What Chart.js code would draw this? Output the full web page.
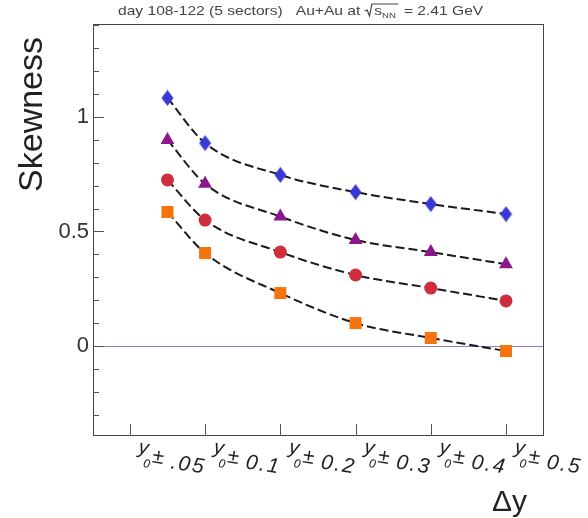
<!DOCTYPE html>
<html>
<head>
<meta charset="utf-8">
<script src="https://cdn.jsdelivr.net/npm/chart.js@4/dist/chart.umd.min.js"></script>
<style>
  html, body { margin: 0; padding: 0; background: #ffffff; }
  #wrap { width: 588px; height: 518px; }
</style>
</head>
<body>
<div id="wrap"><canvas id="c" width="588" height="518"></canvas></div>
<script>
// Rapidity window half-widths (x positions of the points)
const dyValues = [0.05, 0.1, 0.2, 0.3, 0.4, 0.5];

// Skewness for the four series
const skewDiamond  = [1.083, 0.886, 0.747, 0.672, 0.620, 0.576];
const skewTriangle = [0.900, 0.708, 0.565, 0.463, 0.410, 0.357];
const skewCircle   = [0.725, 0.550, 0.410, 0.310, 0.253, 0.197];
const skewSquare   = [0.585, 0.406, 0.231, 0.100, 0.035, -0.022];

// Axis ticks and labels
const xTickValues = [0, 0.1, 0.2, 0.3, 0.4, 0.5];
const xTickLabels = ['.05', '0.1', '0.2', '0.3', '0.4', '0.5'];
const yLabelValues = [0, 0.5, 1];
const yMinorStep = 0.1;

const FONT = '"Liberation Sans", Arial, Helvetica, sans-serif';

// Tall, narrow diamond marker
function diamondMarker(color) {
  const cv = document.createElement('canvas');
  cv.width = 13; cv.height = 17;
  const g = cv.getContext('2d');
  g.fillStyle = color;
  g.beginPath();
  g.moveTo(6.5, 0.5); g.lineTo(12.5, 8.5); g.lineTo(6.5, 16.5); g.lineTo(0.5, 8.5);
  g.closePath();
  g.fill();
  return cv;
}

function toPoints(ys) {
  return dyValues.map((x, i) => ({ x: x, y: ys[i] }));
}

function series(label, ys, color, style, radius) {
  return {
    label: label,
    data: toPoints(ys),
    borderColor: '#1a1a1a',
    borderWidth: 2,
    borderDash: [9, 4],
    cubicInterpolationMode: 'monotone',
    pointStyle: style,
    pointRadius: radius,
    pointHoverRadius: radius,
    pointBackgroundColor: color,
    pointBorderColor: color,
    pointBorderWidth: 0,
    fill: false
  };
}

// Frame, inward ticks, zero line, custom labels and titles
const frameDecor = {
  id: 'frameDecor',
  beforeDatasetsDraw(chart) {
    const { ctx, chartArea: a, scales } = chart;
    const y0 = scales.y.getPixelForValue(0);
    ctx.save();
    ctx.strokeStyle = '#8484c4';
    ctx.lineWidth = 1;
    ctx.beginPath();
    ctx.moveTo(a.left, Math.round(y0) + 0.5);
    ctx.lineTo(a.right, Math.round(y0) + 0.5);
    ctx.stroke();
    ctx.restore();
  },
  afterDraw(chart) {
    const { ctx, chartArea: a, scales } = chart;
    const xs = scales.x, ys = scales.y;
    ctx.save();

    // frame
    ctx.strokeStyle = '#444';
    ctx.lineWidth = 1;
    ctx.strokeRect(Math.round(a.left) + 0.5, Math.round(a.top) + 0.5,
                   Math.round(a.right - a.left) - 1, Math.round(a.bottom - a.top) - 1);

    // y ticks (inward)
    ctx.strokeStyle = '#555';
    ctx.beginPath();
    const yStart = Math.ceil(ys.min / yMinorStep - 1e-6);
    const yEnd = Math.floor(ys.max / yMinorStep + 1e-6);
    for (let k = yStart; k <= yEnd; k++) {
      const v = k * yMinorStep;
      const major = yLabelValues.some(m => Math.abs(m - v) < 1e-6);
      const py = Math.round(ys.getPixelForValue(v)) + 0.5;
      ctx.moveTo(a.left, py);
      ctx.lineTo(a.left + (major ? 11 : 6), py);
    }
    // x ticks (inward)
    xTickValues.forEach(v => {
      const px = Math.round(xs.getPixelForValue(v)) + 0.5;
      ctx.moveTo(px, a.bottom);
      ctx.lineTo(px, a.bottom - 12);
    });
    ctx.stroke();

    // x labels: y_0 ± value, slanted
    ctx.fillStyle = '#222';
    ctx.textBaseline = 'alphabetic';
    ctx.textAlign = 'left';
    xTickValues.forEach((v, i) => {
      const px = xs.getPixelForValue(v);
      ctx.save();
      ctx.translate(px + 8, a.bottom + 17);
      ctx.rotate(9 * Math.PI / 180);
      ctx.font = 'italic 20px ' + FONT;
      ctx.fillText('y', 0, 0);
      ctx.font = 'italic 12px ' + FONT;
      ctx.fillText('0', 7, 13);
      ctx.font = 'italic 21px ' + FONT;
      ctx.fillText('\u00b1', 15, 7);
      ctx.letterSpacing = '2px';
      ctx.fillText(xTickLabels[i], 34, 10);
      ctx.restore();
    });

    // top caption, slightly stretched horizontally
    ctx.save();
    ctx.fillStyle = '#444';
    ctx.strokeStyle = '#444';
    ctx.translate(118, 15);
    ctx.scale(1.2, 1);
    ctx.font = '13px ' + FONT;
    let tx = 0;
    const t1 = 'day 108-122 (5 sectors)   Au+Au at ';
    ctx.fillText(t1, tx, 0);
    tx += ctx.measureText(t1).width;
    const sW = ctx.measureText('s').width;
    ctx.font = '8px ' + FONT;
    const nnW = ctx.measureText('NN').width;
    ctx.lineWidth = 1;
    ctx.beginPath();
    ctx.moveTo(tx, -4);
    ctx.lineTo(tx + 2, -5);
    ctx.lineTo(tx + 4, 1);
    ctx.lineTo(tx + 6, -11);
    ctx.lineTo(tx + 8 + sW + nnW + 2, -11);
    ctx.stroke();
    ctx.font = '13px ' + FONT;
    ctx.fillText('s', tx + 8, 0);
    ctx.font = '8px ' + FONT;
    ctx.fillText('NN', tx + 8 + sW, 3);
    tx += 8 + sW + nnW + 3;
    ctx.font = '13px ' + FONT;
    ctx.fillText(' = 2.41 GeV', tx, 0);
    ctx.restore();

    // y axis title
    ctx.save();
    ctx.fillStyle = '#222';
    ctx.font = '34px ' + FONT;
    ctx.translate(42, 37);
    ctx.rotate(-Math.PI / 2);
    ctx.textAlign = 'right';
    ctx.fillText('Skewness', 0, 0);
    ctx.restore();

    // x axis title
    ctx.fillStyle = '#222';
    ctx.font = '30px ' + FONT;
    ctx.textAlign = 'right';
    ctx.fillText('\u0394y', 527, 511);

    ctx.restore();
  }
};

new Chart(document.getElementById('c'), {
  type: 'line',
  data: {
    datasets: [
      series('series 1', skewDiamond, '#3838d4', diamondMarker('#3838d4'), 8),
      series('series 2', skewTriangle, '#8c168c', 'triangle', 8),
      series('series 3', skewCircle, '#cf2f3c', 'circle', 6.5),
      series('series 4', skewSquare, '#f5740f', 'rect', 8.5)
    ]
  },
  options: {
    responsive: false,
    animation: false,
    devicePixelRatio: 1,
    layout: { padding: { left: 0, top: 24, right: 44, bottom: 0 } },
    plugins: { legend: { display: false }, title: { display: false }, tooltip: { enabled: false } },
    scales: {
      x: {
        type: 'linear',
        min: -0.049,
        max: 0.5505,
        grid: { display: false, drawTicks: false },
        border: { display: false },
        ticks: { display: false },
        afterFit(scale) { scale.height = 82; }
      },
      y: {
        type: 'linear',
        min: -0.393,
        max: 1.406,
        grid: { display: false, drawTicks: false },
        border: { display: false },
        afterBuildTicks(scale) { scale.ticks = yLabelValues.map(v => ({ value: v })); },
        ticks: {
          padding: 4,
          color: '#333',
          font: { family: 'Liberation Sans', size: 22 },
          callback: v => String(v)
        },
        afterFit(scale) { scale.width = 93; }
      }
    }
  },
  plugins: [frameDecor]
});
</script>
</body>
</html>
